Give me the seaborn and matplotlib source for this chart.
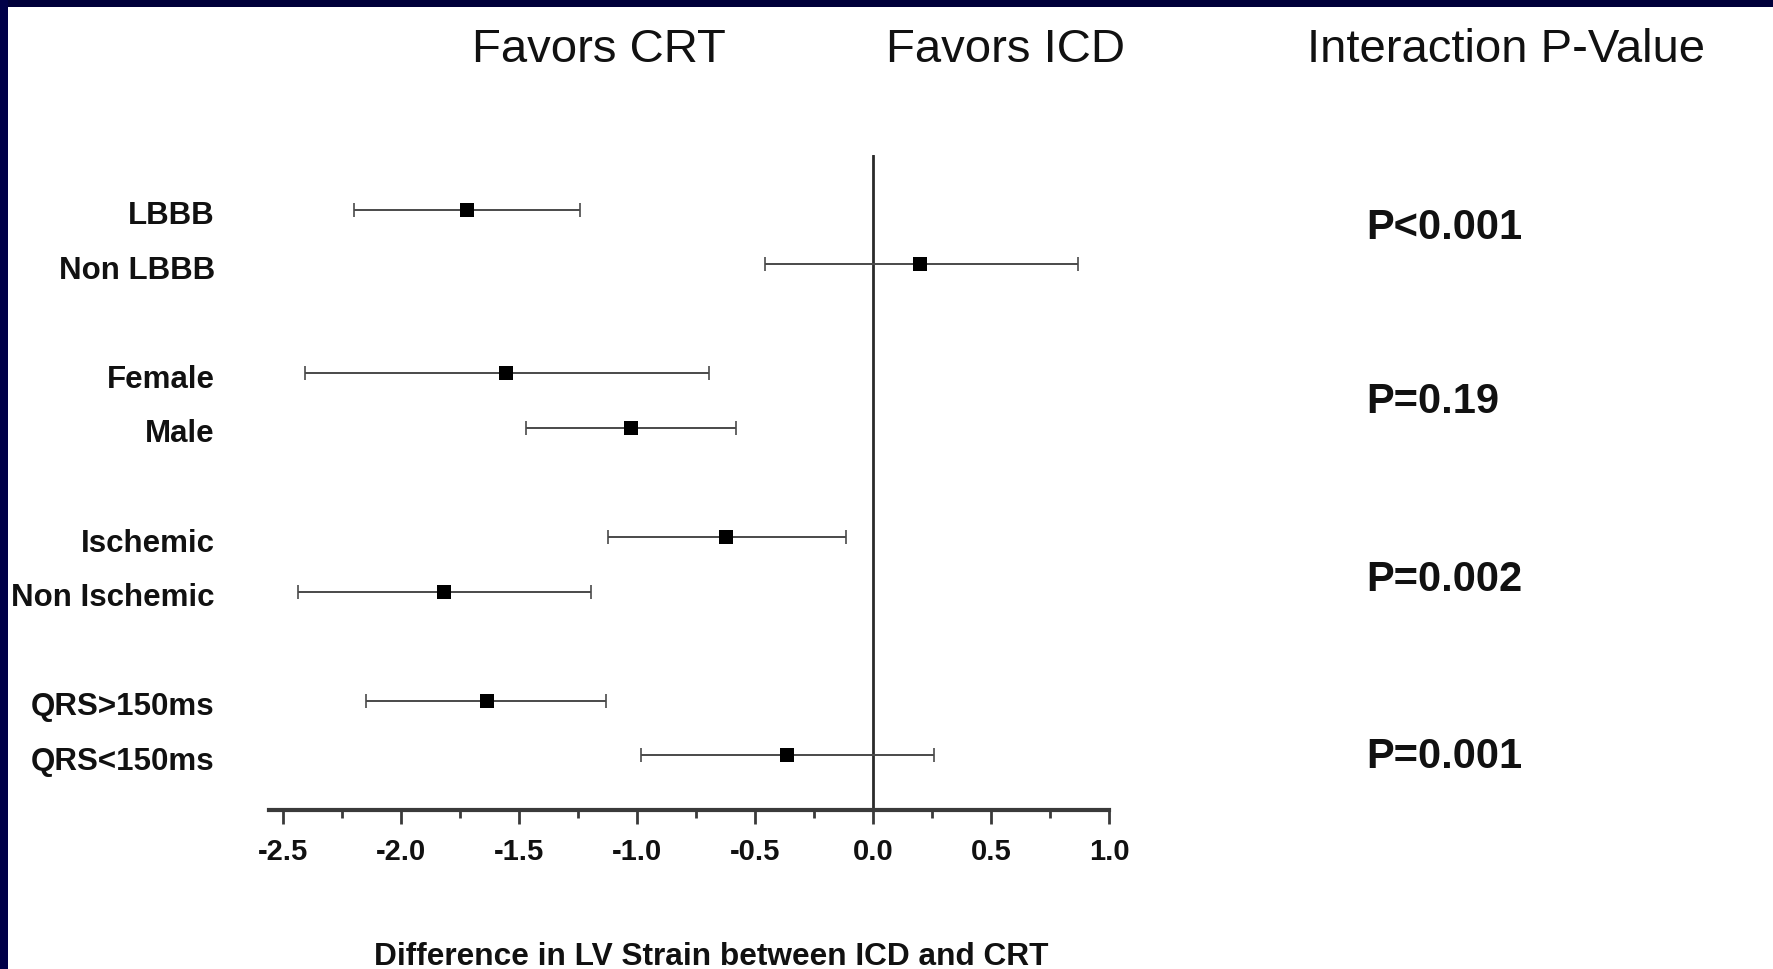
import numpy as np
import pandas as pd
import matplotlib
matplotlib.use("Agg")
import matplotlib.pyplot as plt
import matplotlib.transforms as mtransforms
import seaborn as sns

# Subgroup estimates: difference in LV strain (ICD minus CRT) with 95% CI
subgroups = ["LBBB", "Non LBBB", "Female", "Male",
             "Ischemic", "Non Ischemic", "QRS>150ms", "QRS<150ms"]
row_pos = [0, 1, 3, 4, 6, 7, 9, 10]
estimate = [-1.72, 0.20, -1.555, -1.027, -0.622, -1.817, -1.638, -0.365]
ci_low = [-2.198, -0.459, -2.409, -1.470, -1.125, -2.439, -2.147, -0.985]
ci_high = [-1.243, 0.870, -0.696, -0.579, -0.115, -1.197, -1.132, 0.257]

# Interaction p-values and their vertical placement (in row units)
p_labels = ["P<0.001", "P=0.19", "P=0.002", "P=0.001"]
p_rows = [0.34, 3.52, 6.79, 10.02]

x_ticks = [-2.5, -2.0, -1.5, -1.0, -0.5, 0.0, 0.5, 1.0]
headers = ["Favors CRT", "Favors ICD", "Interaction P-Value"]

df = pd.DataFrame({"subgroup": subgroups, "row": row_pos, "est": estimate,
                   "lo": ci_low, "hi": ci_high})

sns.set_theme(style="white")
plt.rcParams["font.family"] = ["Liberation Sans", "DejaVu Sans"]
plt.rcParams["text.color"] = "#111111"
plt.rcParams["xtick.labelcolor"] = "#111111"
plt.rcParams["ytick.labelcolor"] = "#111111"

W, H = 1773, 969
fig = plt.figure(figsize=(W / 100, H / 100), dpi=100)
fig.patch.set_facecolor("white")

# Navy frame strips along the top and left edges
frame = fig.add_axes([0, 0, 1, 1], zorder=-5)
frame.set_xlim(0, W)
frame.set_ylim(H, 0)
frame.axis("off")
frame.fill_between([0, W], 0, 7, color="#00003a", lw=0)
frame.fill_between([0, 8], 0, H, color="#000048", lw=0)

# Plot area: x from -2.56 to 1.0, rows -1..11
ax_l, ax_r = 269, 1109
ax_t, ax_b = 155, 810
ax = fig.add_axes([ax_l / W, 1 - ax_b / H, (ax_r - ax_l) / W, (ax_b - ax_t) / H])
ax.set_facecolor("none")

err_lo = df["est"] - df["lo"]
err_hi = df["hi"] - df["est"]
ax.errorbar(df["est"], df["row"], xerr=[err_lo, err_hi], fmt="none",
            ecolor="#4a4a4a", elinewidth=1.4, capsize=5, capthick=1.2, zorder=2)
sns.scatterplot(data=df, x="est", y="row", marker="s", s=105, color="black",
                edgecolor="black", linewidth=0, ax=ax, zorder=3, legend=False)

ax.axvline(0, color="#2a2a2a", lw=2.0, zorder=1)

ax.set_xlim(-2.56, 1.0)
ax.set_ylim(11, -1)

for side in ["top", "right", "left"]:
    ax.spines[side].set_visible(False)
ax.spines["bottom"].set_color("#3a3a3a")
ax.spines["bottom"].set_linewidth(3)

ax.set_xticks(x_ticks)
ax.set_xticklabels([f"{t:.1f}" for t in x_ticks], fontsize=21, fontweight="bold")
ax.set_xticks(np.arange(-2.25, 1.0, 0.5), minor=True)
ax.tick_params(axis="x", which="major", direction="out", length=10, width=2,
               color="#3a3a3a", pad=10, bottom=True)
ax.tick_params(axis="x", which="minor", direction="out", length=6, width=2,
               color="#3a3a3a", bottom=True)

ax.set_yticks(row_pos)
ax.set_yticklabels(subgroups, fontsize=22.5, fontweight="bold")
ax.tick_params(axis="y", length=0, pad=39, left=False)
shift = mtransforms.ScaledTranslation(0, -3 / 100, fig.dpi_scale_trans)
for lbl in ax.get_yticklabels():
    lbl.set_transform(lbl.get_transform() + shift)
ax.set_xlabel("")
ax.set_ylabel("")

for lab, r in zip(p_labels, p_rows):
    ax.text(2.089, r, lab, fontsize=30, fontweight="bold", ha="left",
            va="center", clip_on=False)

fig.text(599 / W, 1 - 50 / H, headers[0], fontsize=34, ha="center", va="center")
fig.text(1006 / W, 1 - 50 / H, headers[1], fontsize=34, ha="center", va="center")
fig.text(1506 / W, 1 - 50 / H, headers[2], fontsize=34, ha="center", va="center")

fig.text(711 / W, 1 - 957 / H, "Difference in LV Strain between ICD and CRT",
         fontsize=22.8, fontweight="bold", ha="center", va="center")

fig.savefig("out.png", dpi=100, facecolor="white")
